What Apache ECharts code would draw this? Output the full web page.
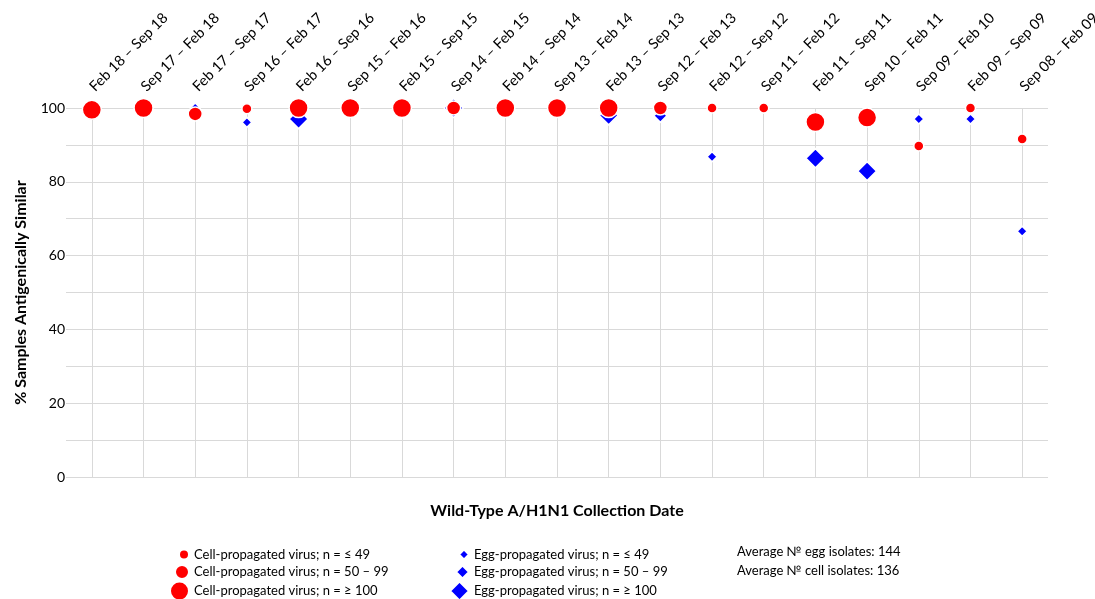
<!DOCTYPE html>
<html>
<head>
<meta charset="utf-8">
<script src="https://cdn.jsdelivr.net/npm/echarts@6/dist/echarts.min.js"></script>
<style>
html,body{margin:0;padding:0;background:#fff;}
#chart{width:1095px;height:599px;}
</style>
</head>
<body>
<div id="chart"></div>
<script>
const categories = ["Feb 18 – Sep 18","Sep 17 – Feb 18","Feb 17 – Sep 17","Sep 16 – Feb 17","Feb 16 – Sep 16","Sep 15 – Feb 16","Feb 15 – Sep 15","Sep 14 – Feb 15","Feb 14 – Sep 14","Sep 13 – Feb 14","Feb 13 – Sep 13","Sep 12 – Feb 13","Feb 12 – Sep 12","Sep 11 – Feb 12","Feb 11 – Sep 11","Sep 10 – Feb 11","Sep 09 – Feb 10","Feb 09 – Sep 09","Sep 08 – Feb 09"];
const cellValues = [99.5,100,98.4,99.8,100,100,100,100,100,100,100,100,100,100,96.2,97.4,89.7,100,91.6];
const cellSizeClass = ["L","L","M","S","L","L","L","M","L","L","L","M","S","S","L","L","S","S","S"];
const eggValues = [100,100,100,96.1,97,100,98.4,100,100,100,98,97.9,86.8,100,86.4,82.9,97,97,66.6];
const eggSizeClass = ["M","M","S","S","L","M","S","L","M","M","L","M","S","S","L","L","S","S","S"];
const cellNames = {S:"Cell-propagated virus; n = ≤ 49", M:"Cell-propagated virus; n = 50 – 99", L:"Cell-propagated virus; n = ≥ 100"};
const eggNames = {S:"Egg-propagated virus; n = ≤ 49", M:"Egg-propagated virus; n = 50 – 99", L:"Egg-propagated virus; n = ≥ 100"};
const avgLabels = ["Average № egg isolates: 144","Average № cell isolates: 136"];
const yTicks = [0,20,40,60,80,100];

const FONT = "Lato";
const cellSize = {S:10, M:14, L:19};
const eggSize = {S:10, M:13, L:19};
const classes = ["S","M","L"];
const rowY = {S:553, M:571, L:590};

function pick(values, sizes, cls){
  return values.map((v,i)=> sizes[i]===cls ? v : '-');
}

const series = [];
classes.forEach(c=>{
  series.push({
    name: eggNames[c], type:'scatter', symbol:'diamond', symbolSize: eggSize[c],
    itemStyle:{color:'#0000ff', borderColor:'#fff', borderWidth:1.5, opacity:1},
    data: pick(eggValues, eggSizeClass, c), z:2
  });
});
classes.forEach(c=>{
  series.push({
    name: cellNames[c], type:'scatter', symbol:'circle', symbolSize: cellSize[c],
    itemStyle:{color:'#ff0000', borderColor:'#fff', borderWidth:1.5, opacity:1},
    data: pick(cellValues, cellSizeClass, c), z:3
  });
});

const legends = [];
classes.forEach(c=>{
  const s = cellSize[c];
  legends.push({data:[cellNames[c]], orient:'vertical', left:193-5-s, top:rowY[c]-s/2, padding:0,
    itemWidth:s, itemHeight:s, selectedMode:false, textStyle:{fontFamily:FONT,fontSize:13,color:'#000'}});
});
classes.forEach(c=>{
  const s = eggSize[c];
  legends.push({data:[eggNames[c]], orient:'vertical', left:473-5-s, top:rowY[c]-s/2, padding:0,
    itemWidth:s, itemHeight:s, selectedMode:false, textStyle:{fontFamily:FONT,fontSize:13,color:'#000'}});
});

const chart = echarts.init(document.getElementById('chart'), null, {renderer:'canvas'});
chart.setOption({
  animation:false,
  backgroundColor:'#fff',
  textStyle:{fontFamily:FONT},
  grid:{left:66, right:47, top:108, bottom:122, containLabel:false, outerBoundsMode:'none'},
  legend: legends,
  xAxis:{
    type:'category', position:'top', data:categories, boundaryGap:true,
    axisLine:{show:false}, axisTick:{show:false},
    splitLine:{show:true, alignWithLabel:true, interval:0, lineStyle:{color:'#d9d9d9', width:1}},
    axisLabel:{interval:0, rotate:45, margin:19, fontFamily:FONT, fontSize:14.5, color:'#000'}
  },
  yAxis:{
    type:'value', min:0, max:100, interval:10,
    name:'% Samples Antigenically Similar', nameLocation:'middle', nameGap:37,
    nameTextStyle:{fontFamily:FONT, fontSize:16, fontWeight:'bold', color:'#000'},
    axisLine:{show:false}, axisTick:{show:false},
    splitLine:{show:true, lineStyle:{color:'#d9d9d9', width:1}},
    axisLabel:{margin:1, fontFamily:FONT, fontSize:14, color:'#000',
      formatter: v => yTicks.indexOf(v) >= 0 ? String(v) : ''}
  },
  graphic:[
    {type:'text', x:557, y:511, style:{text:'Wild-Type A/H1N1 Collection Date', font:'bold 16px '+FONT, fill:'#000', align:'center', verticalAlign:'middle'}},
    {type:'text', x:737, y:552, style:{text:avgLabels[0], font:'13px '+FONT, fill:'#000', align:'left', verticalAlign:'middle'}},
    {type:'text', x:737, y:571, style:{text:avgLabels[1], font:'13px '+FONT, fill:'#000', align:'left', verticalAlign:'middle'}}
  ],
  series: series
});
</script>
</body>
</html>
